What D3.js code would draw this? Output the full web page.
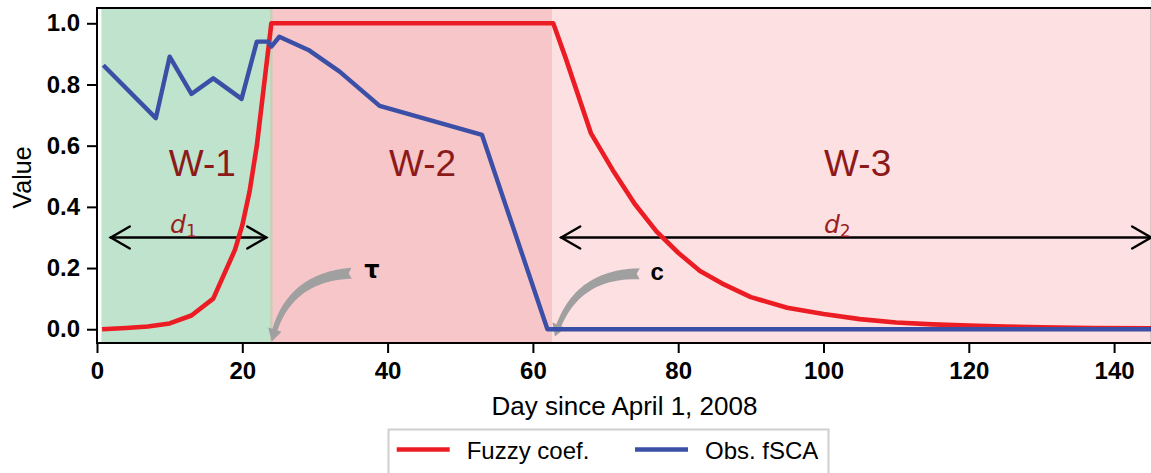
<!DOCTYPE html>
<html>
<head>
<meta charset="utf-8">
<script src="https://cdn.jsdelivr.net/npm/d3@7"></script>
<style>
  body { margin: 0; background: #fff; }
  svg { display: block; font-family: "Liberation Sans", Arial, Helvetica, sans-serif; }
</style>
</head>
<body>
<svg id="chart" width="1151" height="473"></svg>
<script>
// Fuzzy membership coefficient over the melt season
const fuzzyDays   = [0.7, 4, 7, 10, 13, 16, 19, 20, 21, 22, 23, 24, 62.8, 64.5, 68, 71, 74, 77, 80, 83, 86, 90, 95, 100, 105, 110, 115, 120, 125, 130, 137, 145.2];
const fuzzyValues = [0.0, 0.004, 0.009, 0.019, 0.045, 0.10, 0.26, 0.34, 0.45, 0.60, 0.80, 1.0, 1.0, 0.887, 0.64, 0.52, 0.41, 0.32, 0.25, 0.19, 0.15, 0.105, 0.07, 0.05, 0.033, 0.022, 0.016, 0.012, 0.009, 0.006, 0.004, 0.003];

// Observed fractional snow-covered area
const fscaDays   = [0.87, 8.1, 10, 13, 16, 19.9, 22, 23.6, 24, 25.1, 29.1, 33.4, 38.9, 53, 62, 145.2];
const fscaValues = [0.863, 0.69, 0.891, 0.769, 0.82, 0.753, 0.94, 0.94, 0.924, 0.956, 0.913, 0.842, 0.73, 0.635, 0.0, 0.0];

// Window boundaries (days)
const windowNames  = ["W-1", "W-2", "W-3"];
const windowStarts = [0.6, 24, 62.7];
const windowEnds   = [24, 62.7, 145.2];

const xTickValues = [0, 20, 40, 60, 80, 100, 120, 140];
const yTickValues = [0.0, 0.2, 0.4, 0.6, 0.8, 1.0];
const seriesNames = ["Fuzzy coef.", "Obs. fSCA"];

const svg = d3.select("#chart");
const x = d3.scaleLinear().domain([0, 145.2]).range([97, 97 + 7.265 * 145.2]);
const y = d3.scaleLinear().domain([-0.045, 1.05]).range([343, 8]);

const RED = "#ec1c24", BLUE = "#3a4fa5", DARKRED = "#8c1a1a", GREY = "#a0a0a0";
const windowFills = ["#bfe3cd", "#f7c6c9", "#fde0e1"];

svg.append("defs").append("clipPath").attr("id", "plot-clip")
  .append("rect").attr("x", x.range()[0]).attr("y", y.range()[1])
  .attr("width", x.range()[1] - x.range()[0]).attr("height", y.range()[0] - y.range()[1]);

const plot = svg.append("g").attr("clip-path", "url(#plot-clip)");

// shaded windows
plot.selectAll("rect.win").data(windowNames).join("rect")
  .attr("class", "win")
  .attr("x", (d, i) => x(windowStarts[i]))
  .attr("width", (d, i) => x(windowEnds[i]) - x(windowStarts[i]))
  .attr("y", y(1.05)).attr("height", y(-0.045) - y(1.05))
  .attr("fill", (d, i) => windowFills[i]);
// thin blended seam where W-1 meets W-2
plot.append("rect")
  .attr("x", x(windowEnds[0]) - 1.2).attr("width", 2.4)
  .attr("y", y(1.05)).attr("height", y(-0.045) - y(1.05))
  .attr("fill", "#c9cfb6");

// window labels
const windowLabelX = [14.5, 44.8, 104.7];
plot.selectAll("text.win").data(windowNames).join("text")
  .attr("class", "win")
  .attr("x", (d, i) => x(windowLabelX[i])).attr("y", y(0.5))
  .attr("text-anchor", "middle")
  .attr("font-size", 37).attr("fill", DARKRED)
  .text(d => d);

// double-headed duration arrows
function durationArrow(x0, x1, v) {
  const g = plot.append("g").attr("stroke", "#000").attr("stroke-width", 2.4).attr("fill", "none")
    .attr("stroke-linecap", "round").attr("stroke-linejoin", "miter");
  const px0 = x(x0), px1 = x(x1), py = y(v);
  g.append("line").attr("x1", px0).attr("x2", px1).attr("y1", py).attr("y2", py);
  const ax = 19, ay = 11;
  g.append("path").attr("d", `M${px0 + ax},${py - ay}L${px0},${py}L${px0 + ax},${py + ay}`);
  g.append("path").attr("d", `M${px1 - ax},${py - ay}L${px1},${py}L${px1 - ax},${py + ay}`);
}
durationArrow(1.9, 23.3, 0.30);
durationArrow(63.9, 145.1, 0.30);

function dLabel(cx, v, sub) {
  const t = plot.append("text").attr("x", x(cx)).attr("y", y(v) - 4)
    .attr("text-anchor", "middle").attr("fill", "#9a1e1e")
    .attr("font-family", "'DejaVu Sans', sans-serif");
  t.append("tspan").attr("font-style", "italic").attr("font-size", 25).text("d");
  t.append("tspan").attr("font-size", 17).attr("dy", 4).text(sub);
}
dLabel(11.9, 0.30, "1");
dLabel(101.9, 0.30, "2");

// curved grey pointer arrows (tapering body with notched tail)
function fancyArrow(tail, tip, rad) {
  const [x1, y1] = [x(tail[0]), y(tail[1])];
  const [x2, y2] = [x(tip[0]), y(tip[1])];
  const dx = x2 - x1, dy = y2 - y1;
  const cx = (x1 + x2) / 2 + rad * dy, cy = (y1 + y2) / 2 - rad * dx;
  const B = t => [(1 - t) * (1 - t) * x1 + 2 * (1 - t) * t * cx + t * t * x2,
                  (1 - t) * (1 - t) * y1 + 2 * (1 - t) * t * cy + t * t * y2];
  const D = t => [2 * (1 - t) * (cx - x1) + 2 * t * (x2 - cx),
                  2 * (1 - t) * (cy - y1) + 2 * t * (y2 - cy)];
  const headLen = 12;
  let th = 1;
  for (let t = 1; t > 0; t -= 0.002) {
    const p = B(t);
    if (Math.hypot(p[0] - x2, p[1] - y2) >= headLen) { th = t; break; }
  }
  const N = 40, left = [], right = [];
  const wTail = 5.5, wHead = 2.6;
  for (let i = 0; i <= N; i++) {
    const t = th * i / N;
    const p = B(t), d = D(t), L = Math.hypot(d[0], d[1]);
    const n = [-d[1] / L, d[0] / L];
    const w = wTail + (wHead - wTail) * (i / N);
    left.push([p[0] + n[0] * w, p[1] + n[1] * w]);
    right.push([p[0] - n[0] * w, p[1] - n[1] * w]);
  }
  const pb = B(th), db = D(th), Lb = Math.hypot(db[0], db[1]);
  const nb = [-db[1] / Lb, db[0] / Lb], hw = 7;
  const d0 = D(0), L0 = Math.hypot(d0[0], d0[1]);
  const notch = [x1 + d0[0] / L0 * 3, y1 + d0[1] / L0 * 3];
  const pts = [...left,
    [pb[0] + nb[0] * hw, pb[1] + nb[1] * hw], [x2, y2], [pb[0] - nb[0] * hw, pb[1] - nb[1] * hw],
    ...right.reverse(), notch];
  plot.append("path").attr("d", "M" + pts.map(p => p.join(",")).join("L") + "Z")
    .attr("fill", GREY);
}
fancyArrow([35.05, 0.183], [24.05, -0.04], -0.38);
fancyArrow([74.7, 0.181], [63.04, -0.024], -0.38);

plot.append("text").attr("x", x(37.85)).attr("y", y(0.167)).attr("text-anchor", "middle")
  .attr("font-size", 24).attr("font-weight", "bold").attr("font-family", "'DejaVu Sans', sans-serif").text("τ");
plot.append("text").attr("x", x(77.1)).attr("y", y(0.161)).attr("text-anchor", "middle")
  .attr("font-size", 24).attr("font-weight", "bold").text("c");

// series lines
const line = d3.line().x(d => x(d[0])).y(d => y(d[1]));
plot.append("path").datum(d3.zip(fuzzyDays, fuzzyValues))
  .attr("d", line).attr("fill", "none").attr("stroke", RED).attr("stroke-width", 4.6)
  .attr("stroke-linejoin", "round");
plot.append("path").datum(d3.zip(fscaDays, fscaValues))
  .attr("d", line).attr("fill", "none").attr("stroke", BLUE).attr("stroke-width", 4.4)
  .attr("stroke-linejoin", "round");

// axes
const xAxis = svg.append("g").attr("transform", `translate(0,${y.range()[0]})`)
  .call(d3.axisBottom(x).tickValues(xTickValues).tickSize(10).tickPadding(9).tickFormat(d3.format("d")));
const yAxis = svg.append("g").attr("transform", `translate(${x.range()[0]},0)`)
  .call(d3.axisLeft(y).tickValues(yTickValues).tickSize(10).tickPadding(7).tickFormat(d3.format(".1f")));
[xAxis, yAxis].forEach(a => {
  a.select(".domain").remove();
  a.selectAll(".tick line").attr("stroke", "#000").attr("stroke-width", 2);
  a.selectAll(".tick text").attr("fill", "#000").attr("font-size", 24).attr("font-weight", "bold")
    .attr("font-family", "'Liberation Sans', Arial, sans-serif");
});

// spines
svg.append("rect")
  .attr("x", x.range()[0]).attr("y", y.range()[1])
  .attr("width", x.range()[1] - x.range()[0]).attr("height", y.range()[0] - y.range()[1])
  .attr("fill", "none").attr("stroke", "#000").attr("stroke-width", 2);

// axis titles
svg.append("text").attr("x", (x.range()[0] + x.range()[1]) / 2).attr("y", 415)
  .attr("text-anchor", "middle").attr("font-size", 26).text("Day since April 1, 2008");
svg.append("text").attr("transform", `translate(31,${(y.range()[0] + y.range()[1]) / 2 + 2}) rotate(-90)`)
  .attr("text-anchor", "middle").attr("font-size", 25).text("Value");

// legend
const legend = svg.append("g");
legend.append("rect").attr("x", 388.5).attr("y", 429.5).attr("width", 440).attr("height", 45)
  .attr("fill", "#fff").attr("stroke", "#cfcfcf").attr("stroke-width", 2);
const legendColors = [RED, BLUE];
const legendX = [396.7, 635];
seriesNames.forEach((name, i) => {
  legend.append("line").attr("x1", legendX[i]).attr("x2", legendX[i] + 53)
    .attr("y1", 449.5).attr("y2", 449.5).attr("stroke", legendColors[i]).attr("stroke-width", 4.6);
  legend.append("text").attr("x", legendX[i] + 70).attr("y", 458.5).attr("font-size", 24).text(name);
});
</script>
</body>
</html>
